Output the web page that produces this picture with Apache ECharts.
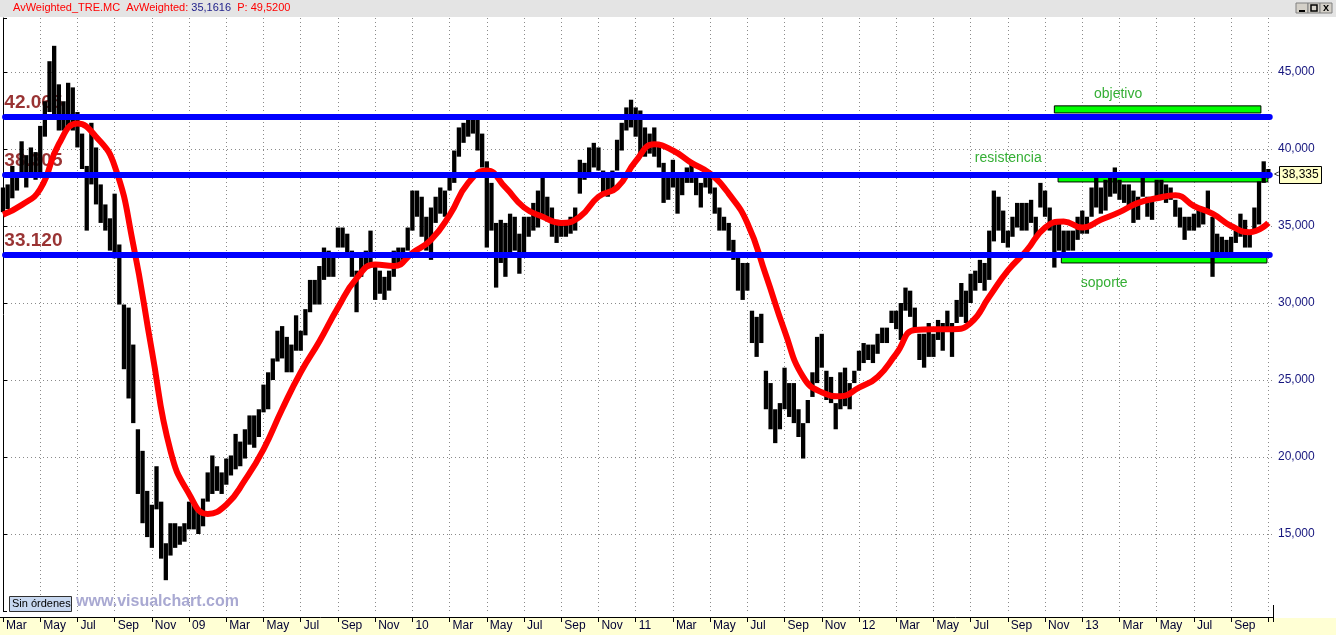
<!DOCTYPE html>
<html><head><meta charset="utf-8">
<script src="https://cdn.jsdelivr.net/npm/echarts/dist/echarts.min.js"></script>
<style>
html,body{margin:0;padding:0;background:#fff;overflow:hidden;}
#wrap{position:relative;width:1336px;height:635px;background:#fff;}
#hdr{position:absolute;left:0;top:0;width:1336px;height:17px;background:#E4E4E4;}
#band{position:absolute;left:0;top:618px;width:1336px;height:17px;background:#FFFFD4;}
#c{position:absolute;left:0;top:0;width:1336px;height:635px;}
</style>
</head><body>
<div id="wrap"><div id="hdr"></div><div id="band"></div><div id="c"></div></div>
<script>
// ---- tick labels (one every two months, from Mar 2008) ----
const xTickLabels = ['Mar','May','Jul','Sep','Nov','09','Mar','May','Jul','Sep','Nov','10','Mar','May','Jul','Sep','Nov','11','Mar','May','Jul','Sep','Nov','12','Mar','May','Jul','Sep','Nov','13','Mar','May','Jul','Sep',''];
// ---- price ranges, one bar per quarter month (index 0 = start of Mar 2008) ----
const barHigh = [
37500,37700,38900,38400,40500,39600,40100,39800,41500,43100,45700,46700,44200,43100,44300,44000,42400,41000,38900,41700,
40100,37700,36400,35500,37100,33800,29900,29700,27300,21800,20400,17800,16900,19400,17100,14400,15700,15700,15500,15700,
17100,16900,16600,17300,19000,20100,19400,19000,19900,20100,21500,21000,21800,22700,22700,23100,24700,25500,26400,28200,
28500,27800,27300,29200,28200,29600,31500,31500,32400,33600,33400,33000,34900,34900,34500,33400,32100,33000,33400,34700,
32600,32100,31700,32100,33400,33600,33600,34900,37300,37300,36900,35600,36200,36900,37500,37300,38400,39900,41400,41700,
42100,42200,42100,41000,39200,37800,35200,35400,35200,35800,35600,34500,35600,35600,36500,37300,38200,36900,36200,35400,
35200,35200,35600,36200,39300,39100,40100,40400,40100,38600,38200,38600,40600,41700,42700,43200,42700,42500,41400,41000,
41400,40400,39100,38400,39300,38200,38200,38800,39000,38400,37800,38600,38200,37500,36200,35600,35200,34100,33000,32600,
32600,29500,29100,29300,25600,24800,23100,23500,25800,24800,24800,23100,22200,23700,25500,27800,28000,25600,25200,23500,
25500,25800,24800,25600,26900,27400,27300,27300,28000,28400,28400,29500,29500,30000,31000,30800,29700,28000,28000,28700,
28000,28900,28700,29500,28700,30200,31300,30800,31900,32100,32800,32600,34700,37300,36900,36000,34700,35600,36500,36500,
36500,36700,35600,37800,37300,36200,35200,35400,34700,34700,34700,35600,36000,35600,37500,38400,37500,38000,38400,38800,
38000,37700,37700,37300,36900,38200,36900,36700,38000,38000,37700,37500,36700,36200,35600,35600,35800,36200,36200,37300,
35600,34500,34300,34100,34300,34700,35800,35400,34700,36200,37900,39200,38700];
const barLow = [
35900,36100,36800,37300,38400,37500,38200,38000,38400,40800,42400,42000,41200,41200,41500,41200,40100,38700,34700,37700,
36400,35200,34700,33400,32900,29900,25700,23800,22200,17600,15700,14800,14100,16600,13400,12000,13600,14100,14300,14500,
15300,15300,15000,15500,17100,17600,17800,17600,18200,18800,19200,19400,19900,20800,20600,21300,22900,23100,25000,26200,
26400,25500,25500,26900,26900,27900,29400,29900,29900,31500,31700,31700,33600,33600,33200,31700,29400,31700,32300,32600,
30200,30600,30200,30800,31700,32600,32800,33400,34700,35600,34300,33400,32800,35200,35800,35600,37300,37800,39500,40400,
40800,41000,39900,38800,33600,34700,31000,32600,31700,33000,33400,31900,33000,34300,34700,34900,35600,35300,34300,33900,
34300,34300,34500,34700,37100,38000,38200,38800,38600,37100,36900,37300,38600,39900,41200,41400,40800,39600,39500,39700,
39500,38800,36500,36700,37500,35800,37000,37800,37800,37000,36200,37500,37100,35800,34700,34700,33400,32800,30800,30200,
30800,27400,26500,27400,23100,21800,20900,21800,23100,22600,22200,21300,19900,22200,23900,24800,25800,23700,23500,21800,
23100,23300,23100,24800,25600,26100,26300,26100,26700,27400,27400,28700,28300,27600,29500,29100,28200,26300,25800,26500,
26500,27600,26900,28200,26500,28700,29100,28700,30000,30800,31300,30800,31500,34000,34700,33900,33600,34300,34900,34700,
34700,35200,34300,36200,35600,34700,32300,33400,33200,33400,33400,34100,34500,34500,35600,36200,35800,36000,36900,37100,
36700,36500,36200,35200,35400,36900,35600,35400,36900,36900,36500,36700,35600,34900,34100,34700,34700,34900,35100,36000,
31700,33000,33000,33200,33000,33900,34300,33600,33600,34700,35100,37800,38100];
// ---- weighted moving average, read once a month ----
const maIndex = [0,4,8,12,16,20,24,28,32,36,40,44,48,52,56,60,64,68,72,76,80,84,88,92,96,100,104,108,112,116,120,124,128,132,136,140,144,148,152,156,160,164,168,172,176,180,184,188,192,196,200,204,208,212,216,220,224,228,232,236,240,244,248,252,256,260,264,268,272];
const maValue = [35740,36360,37400,40320,41650,40800,38900,33800,26900,20400,17600,16300,16900,18500,20500,23100,25500,27500,29700,31600,32500,32400,33250,34100,35700,37800,38600,37500,36200,35600,35200,35600,36900,37500,39200,40300,39900,39100,38400,37100,35200,31800,28200,25200,24200,23950,24500,25200,26700,28250,28300,28300,28700,30400,32100,33400,34900,35300,34900,35400,35900,36500,36800,37000,36300,35800,35000,34600,35200];
// ---- horizontal levels ----
const levels = [42065, 38305, 33120];
const levelLabels = ['42.065', '38.305', '33.120'];
// ---- zones (bar index range, price range) ----
const zoneNames = ['objetivo', 'resistencia', 'soporte'];
const zoneFrom = [226, 226.8, 227.5];
const zoneTo = [270.4, 271.9, 271.7];
const zoneTop = [42800, 38180, 33000];
const zoneBottom = [42340, 37860, 32600];
const lastClose = 38335;

const FONT = 'Liberation Sans, Arial, sans-serif';
const chart = echarts.init(document.getElementById('c'), null, {renderer:'canvas'});
const barData = barHigh.map((h, i) => [i, barLow[i], h]);
const maData = maIndex.map((i, k) => [i, maValue[k]]);

const option = {
  animation: false,
  backgroundColor: 'transparent',
  grid: {left: 3, right: 63, top: 18, bottom: 24},
  xAxis: {
    type: 'value', min: 0, max: 273, interval: 8, offset: 6,
    axisLine: {show: true, onZero: false, lineStyle: {color: '#000', width: 1}},
    axisTick: {show: true, length: 5, lineStyle: {color: '#000'}},
    axisLabel: {formatter: v => (v % 8 === 0 ? (xTickLabels[v / 8] || '') : ''), align: 'left', margin: 3,
      padding: [0, 0, 0, 3], color: '#000033', fontSize: 12, fontFamily: FONT},
    splitLine: {show: true, showMinLine: false, showMaxLine: false, lineStyle: {color: '#8a8a8a', type: [1, 3], width: 1}}
  },
  yAxis: {
    type: 'value', position: 'right', min: 10000, max: 48506, interval: 5000,
    axisLine: {show: true, lineStyle: {color: '#000', width: 1}},
    axisTick: {show: true, length: 4, lineStyle: {color: '#000'}},
    axisLabel: {formatter: v => (v % 5000 === 0 && v > 10000 ? v.toLocaleString('en-US') : ''), color: '#16167e',
      fontSize: 12, margin: 5, fontFamily: FONT},
    splitLine: {show: true, showMinLine: false, showMaxLine: false, lineStyle: {color: '#8a8a8a', type: [1, 3], width: 1}}
  },
  series: [
    { // green zones
      type: 'line', data: [], z: 1, silent: true,
      markArea: {silent: true, itemStyle: {color: '#00FF00', borderColor: '#000', borderWidth: 1},
        label: {show: false},
        data: zoneNames.map((n, k) => [{coord: [zoneFrom[k], zoneTop[k]]}, {coord: [zoneTo[k], zoneBottom[k]]}])}
    },
    { // level labels
      type: 'scatter', z: 1, silent: true, symbolSize: 1, itemStyle: {color: 'rgba(0,0,0,0)'},
      data: levels.map((v, k) => ({value: [0.4, v], label: {formatter: levelLabels[k]}})),
      label: {show: true, position: [0, -4], align: 'left', verticalAlign: 'bottom', color: '#800000',
        fontSize: 19, fontWeight: 'bold', fontFamily: FONT}
    },
    { // price bars
      type: 'custom', z: 2, silent: true, data: barData, encode: {x: 0, y: [1, 2]},
      renderItem: function (params, api) {
        const a = api.coord([api.value(0), api.value(2)]);
        const b = api.coord([api.value(0), api.value(1)]);
        return {type: 'line', shape: {x1: a[0], y1: a[1], x2: b[0], y2: b[1]},
          style: {stroke: '#000', lineWidth: 4.3}};
      }
    },
    { // blue level lines
      type: 'line', data: [], z: 3, silent: true,
      markLine: {silent: true, symbol: ['none', 'none'], label: {show: false},
        lineStyle: {color: '#0000FF', width: 6, type: 'solid', cap: 'round'},
        data: levels.map(v => [{coord: [0.45, v]}, {coord: [272.3, v]}])}
    },
    { // moving average
      type: 'line', z: 4, silent: true, data: maData, smooth: true, showSymbol: false,
      lineStyle: {color: '#FF0000', width: 6}
    },
    { // zone texts
      type: 'scatter', z: 4, silent: true, symbolSize: 1, itemStyle: {color: 'rgba(0,0,0,0)'},
      data: [
        {value: [239.7, 43571], label: {formatter: zoneNames[0]}},
        {value: [216.1, 39416], label: {formatter: zoneNames[1]}},
        {value: [236.7, 31299], label: {formatter: zoneNames[2]}}
      ],
      label: {show: true, position: 'inside', color: '#009A00', fontSize: 14, fontFamily: FONT}
    }
  ]
};
chart.setOption(option);

const py = chart.convertToPixel({yAxisIndex: 0}, lastClose);
const g = [];
// header text
g.push({type: 'text', left: 13, top: 2, z: 10, style: {
  text: '{r|AvWeighted_TRE.MC  AvWeighted: }{b|35,1616}{r|  P: 49,5200}',
  font: '11px ' + FONT,
  rich: {r: {fill: '#FF0000', fontSize: 11, fontFamily: FONT}, b: {fill: '#22228C', fontSize: 11, fontFamily: FONT}}
}});
// window buttons
[1296, 1308, 1320].forEach((x, k) => {
  g.push({type: 'rect', shape: {x: x, y: 3, width: 12, height: 10}, style: {fill: '#D4D0C8', stroke: '#808080', lineWidth: 1}, z: 10});
});
g.push({type: 'line', shape: {x1: 1299, y1: 11, x2: 1305, y2: 11}, style: {stroke: '#000', lineWidth: 2}, z: 11});
g.push({type: 'rect', shape: {x: 1311, y: 5, width: 6, height: 6}, style: {fill: 'none', stroke: '#000', lineWidth: 1.5}, z: 11});
g.push({type: 'text', x: 1323, y: 2, z: 11, style: {text: 'x', font: 'bold 11px ' + FONT, fill: '#000'}});
// right axis line extension down to the time axis, and time axis extension to the left edge
g.push({type: 'line', shape: {x1: 1273.5, y1: 605, x2: 1273.5, y2: 618}, style: {stroke: '#000', lineWidth: 1}, z: 10});
g.push({type: 'line', shape: {x1: 0, y1: 617.5, x2: 4, y2: 617.5}, style: {stroke: '#000', lineWidth: 1}, z: 10});
// last price box
g.push({type: 'text', x: 1274, y: py, z: 10, style: {text: '<', font: '9px ' + FONT, fill: '#000', verticalAlign: 'middle'}});
g.push({type: 'rect', shape: {x: 1279.5, y: Math.round(py) - 8.5, width: 42, height: 17}, style: {fill: '#FFFFC8', stroke: '#000', lineWidth: 1}, z: 10});
g.push({type: 'text', x: 1282, y: py, z: 11, style: {text: '38,335', font: '12px ' + FONT, fill: '#000', verticalAlign: 'middle'}});
// bottom-left status
g.push({type: 'rect', shape: {x: 9.5, y: 596.5, width: 62, height: 15}, style: {fill: '#C8D8F0', stroke: '#303030', lineWidth: 1}, z: 10});
g.push({type: 'text', x: 12, y: 604, z: 11, style: {text: 'Sin órdenes', font: '11px ' + FONT, fill: '#000', verticalAlign: 'middle'}});
g.push({type: 'text', x: 76, y: 602, z: 10, style: {text: 'www.visualchart.com', font: 'bold 16px ' + FONT, fill: '#A9A9D2', verticalAlign: 'middle'}});
chart.setOption({graphic: g});
</script>
</body></html>
